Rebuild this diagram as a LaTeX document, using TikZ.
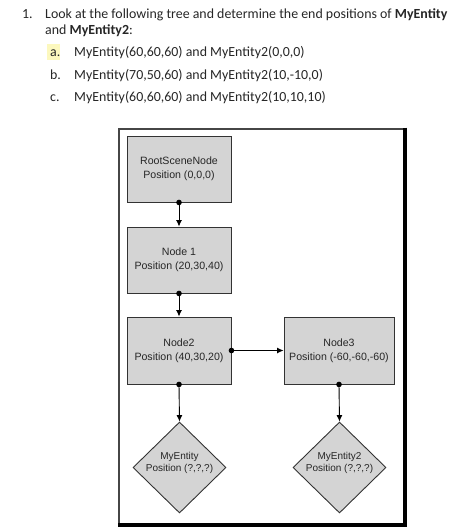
\documentclass[tikz,border=0pt]{standalone}
\usepackage{fontspec}
\setmainfont{Carlito}
\newfontfamily\diagfont{Liberation Sans}
\usetikzlibrary{shapes.geometric,arrows.meta}
\definecolor{boxgray}{RGB}{212,212,212}
\definecolor{framegray}{RGB}{70,70,70}
\definecolor{hilite}{RGB}{252,248,190}
\tikzset{
  qtext/.style={anchor=base west,inner sep=0pt,font=\fontsize{13.9}{16}\selectfont,text=black!85},
  boxnode/.style={draw=black!80,line width=0.9pt,fill=boxgray,align=center,inner sep=0pt,
    font=\diagfont\fontsize{10.6}{13.8}\selectfont,text=black!85},
  dianode/.style={draw=black!80,line width=0.9pt,fill=boxgray,shape=diamond,inner sep=0pt,
    minimum width=93pt,minimum height=91pt},
  dialabel/.style={align=center,inner sep=0pt,font=\diagfont\fontsize{10}{12.5}\selectfont,text=black!85},
  conn/.style={line width=0.9pt,{Circle[length=5.5pt]}-{Latex[length=6.5pt,width=6pt]},shorten <=-2.75pt}
}
\begin{document}
\begin{tikzpicture}[x=1pt,y=-1pt]
\useasboundingbox (0,0) rectangle (475,531);
% question text
\fill[hilite] (47,44) rectangle (60,60);
\node[qtext] (n1) at (22,18.3) {1.};
\node[qtext] (l1) at (45,18.3) {Look at the following tree and determine the end positions of \textbf{MyEntity}};
\node[qtext] (l2) at (45,34.5) {and \textbf{MyEntity2}:};
\node[qtext] (ia) at (50,56.5) {a.};
\node[qtext] (ta) at (74,56.5) {MyEntity(60,60,60) and MyEntity2(0,0,0)};
\node[qtext] (ib) at (50,79) {b.};
\node[qtext] (tb) at (74,79) {MyEntity(70,50,60) and MyEntity2(10,-10,0)};
\node[qtext] (ic) at (50,101.5) {c.};
\node[qtext] (tc) at (74,101.5) {MyEntity(60,60,60) and MyEntity2(10,10,10)};
% frame
\draw[framegray,line width=2pt] (119,525) -- (119,129) -- (404,129);
\draw[black,line width=4pt] (405,127.5) -- (405,525) -- (118,525);
% nodes
\node[boxnode,minimum width=104pt,minimum height=66pt] (root) at (179,169) {RootSceneNode\\Position (0,0,0)};
\node[boxnode,minimum width=104pt,minimum height=66pt] (node1) at (179,260) {Node 1\\Position (20,30,40)};
\node[boxnode,minimum width=104pt,minimum height=67pt] (node2) at (179,350.5) {Node2\\Position (40,30,20)};
\node[boxnode,minimum width=110pt,minimum height=67pt] (node3) at (339,350.5) {Node3\\Position (-60,-60,-60)};
\node[dianode] (ent1) at (179.5,467.5) {};
\node[dialabel] (ent1t) at (179.5,463) {MyEntity\\Position (?,?,?)};
\node[dianode] (ent2) at (339.5,467.5) {};
\node[dialabel] (ent2t) at (339.5,463) {MyEntity2\\Position (?,?,?)};
% connectors
\draw[conn] (root.south) -- (node1.north);
\draw[conn] (node1.south) -- (node2.north);
\draw[conn] (node2.east) -- (node3.west);
\draw[conn] (node2.south) -- (ent1.north);
\draw[conn] (node3.south) -- (ent2.north);
\end{tikzpicture}
\end{document}
